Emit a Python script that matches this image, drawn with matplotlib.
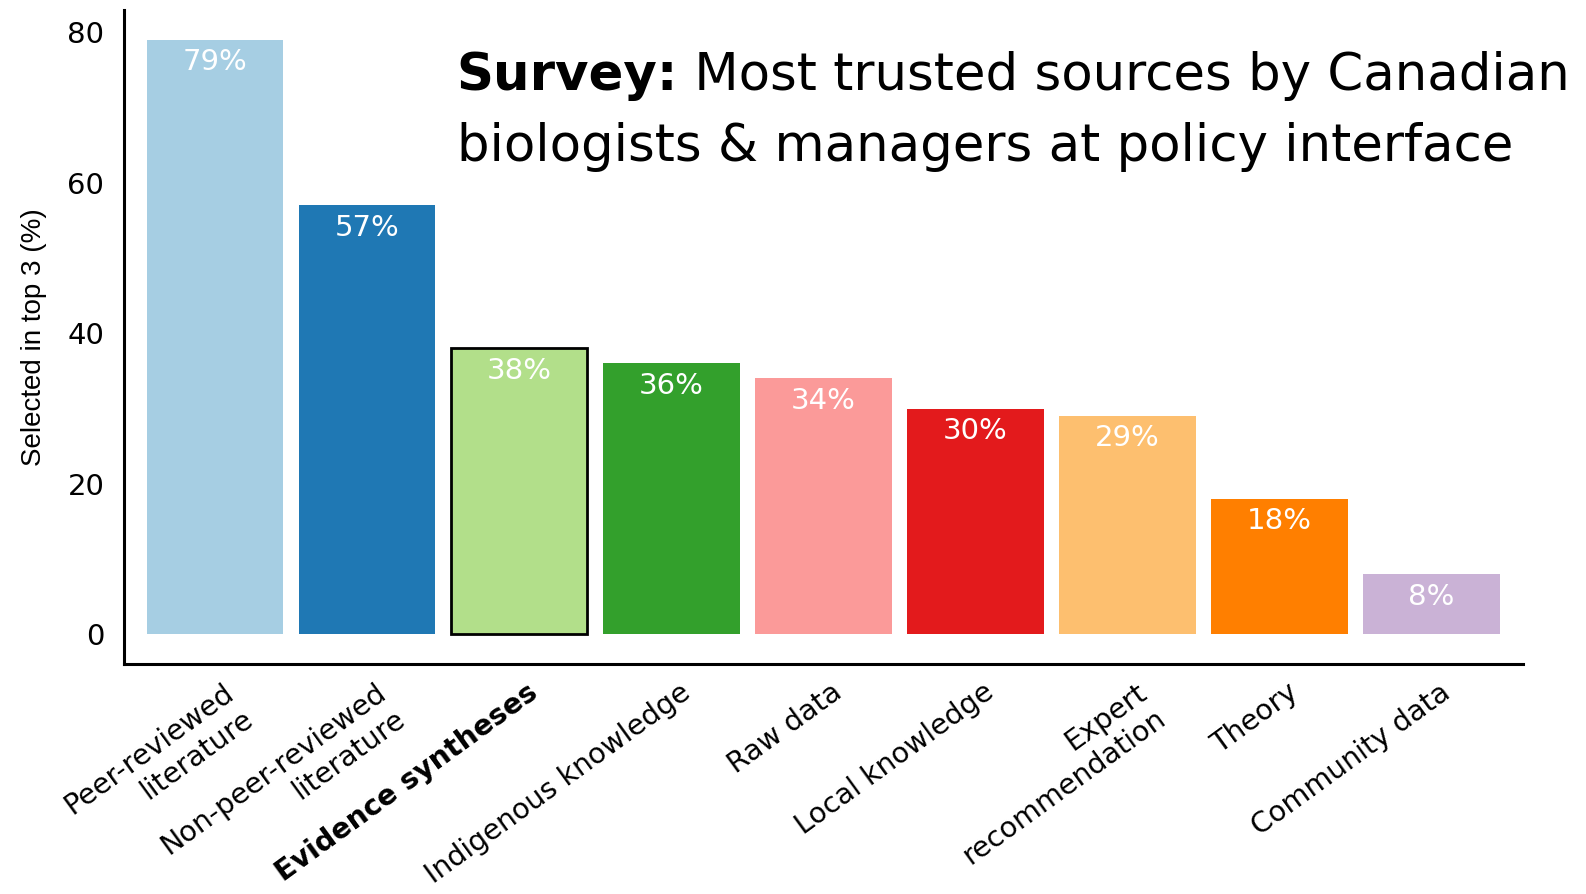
import matplotlib
matplotlib.use("Agg")
import matplotlib.pyplot as plt
import matplotlib.transforms as mtransforms

# survey results: share of respondents ranking each source in their top 3
sources = ["Peer-reviewed\nliterature", "Non-peer-reviewed\nliterature", "Evidence syntheses",
           "Indigenous knowledge", "Raw data", "Local knowledge",
           "Expert\nrecommendation", "Theory", "Community data"]
percent = [79, 57, 38, 36, 34, 30, 29, 18, 8]
colours = ["#A6CEE3", "#1F78B4", "#B2DF8A", "#33A02C", "#FB9A99",
           "#E31A1C", "#FDBF6F", "#FF7F00", "#CAB2D6"]
highlight = "Evidence syntheses"

plt.rcParams["font.family"] = "DejaVu Sans"

fig = plt.figure(figsize=(15.86, 8.94), dpi=100)
ax = fig.add_axes([0.078, 0.257, 0.882, 0.732])

x = list(range(len(sources)))
bars = ax.bar(x, percent, width=0.9, color=colours, edgecolor="none")
for b, name in zip(bars, sources):
    if name == highlight:
        b.set_edgecolor("black")
        b.set_linewidth(2.0)

# value labels just inside the top of each bar
for xi, v in zip(x, percent):
    ax.annotate("%d%%" % v, (xi, v), xytext=(0, -6), textcoords="offset points",
                ha="center", va="top", color="white", fontsize=21)

ax.set_xlim(-0.6, len(sources) - 0.4)
ax.set_ylim(-3.95, 82.95)
ax.set_yticks([0, 20, 40, 60, 80])
ax.tick_params(axis="y", length=0, pad=14, labelsize=21)
ax.tick_params(axis="x", length=0, pad=10)

ax.set_xticks(x)
ax.set_xticklabels(sources, rotation=36, ha="right", va="top",
                   rotation_mode="anchor", fontsize=20.5, multialignment="right")
shift = mtransforms.ScaledTranslation(8 / 100, 0, fig.dpi_scale_trans)
for lab in ax.get_xticklabels():
    lab.set_transform(lab.get_transform() + shift)
    if lab.get_text() == highlight:
        lab.set_fontweight("bold")

ax.set_ylabel("Selected in top 3 (%)", fontsize=20, family="Liberation Sans")
ax.yaxis.set_label_coords(-0.055, 0.5)

for s in ["top", "right"]:
    ax.spines[s].set_visible(False)
for s in ["left", "bottom"]:
    ax.spines[s].set_linewidth(2.2)

# two-part title: bold lead word then regular text
t1 = fig.text(0.288, 0.915, "Survey:", fontsize=37, fontweight="bold", va="center")
ax.annotate(" Most trusted sources by Canadian", xy=(1, 0), xycoords=t1,
            va="bottom", ha="left", fontsize=37)
fig.text(0.288, 0.836, "biologists & managers at policy interface", fontsize=37, va="center")

fig.savefig("out.png", dpi=100)
